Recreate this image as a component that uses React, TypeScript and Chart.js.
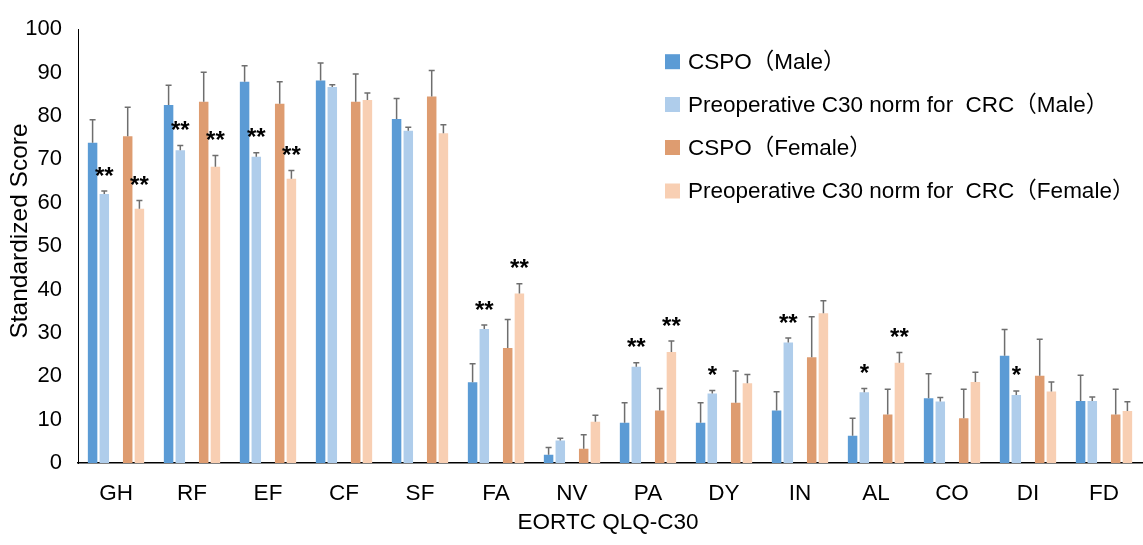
import React, { useEffect, useRef } from "react";
import { Chart, registerables } from "chart.js";

Chart.register(...registerables);

const categories = ["GH", "RF", "EF", "CF", "SF", "FA", "NV", "PA", "DY", "IN", "AL", "CO", "DI", "FD"];
const seriesLabels = [
  "CSPO（Male）",
  "Preoperative C30 norm for  CRC（Male）",
  "CSPO（Female）",
  "Preoperative C30 norm for  CRC（Female）",
];
const cspoMale = [73.8, 82.5, 87.9, 88.2, 79.3, 18.6, 1.9, 9.3, 9.3, 12.1, 6.3, 14.9, 24.7, 14.3];
const cspoMaleErr = [5.3, 4.6, 3.7, 4.0, 4.7, 4.3, 1.7, 4.6, 4.6, 4.3, 4.0, 5.7, 6.1, 5.9];
const normMale = [62.0, 72.1, 70.6, 86.7, 76.6, 30.9, 5.2, 22.2, 16.0, 27.8, 16.3, 14.2, 15.7, 14.3];
const normMaleErr = [0.7, 1.1, 0.9, 0.5, 0.8, 0.9, 0.5, 0.9, 0.7, 1.0, 0.9, 0.9, 0.9, 0.9];
const cspoFemale = [75.3, 83.3, 82.8, 83.3, 84.5, 26.5, 3.3, 12.1, 13.9, 24.4, 11.2, 10.3, 20.1, 11.2];
const cspoFemaleErr = [6.7, 6.8, 5.1, 6.4, 6.0, 6.6, 3.2, 5.1, 7.3, 9.3, 5.8, 6.7, 8.4, 5.8];
const normFemale = [58.6, 68.3, 65.5, 83.7, 76.0, 39.1, 9.5, 25.6, 18.4, 34.5, 23.1, 18.7, 16.5, 12.0];
const normFemaleErr = [1.9, 2.6, 1.9, 1.6, 2.0, 2.2, 1.5, 2.5, 2.0, 2.9, 2.4, 2.2, 2.2, 2.1];
const sigNormMale = ["**", "**", "**", "", "", "**", "", "**", "*", "**", "*", "", "*", ""];
const sigNormFemale = ["**", "**", "**", "", "", "**", "", "**", "", "", "**", "", "", ""];
const spacer = categories.map(() => null);

const colors = ["#5B9BD5", "#AFCDEB", "#DE9C70", "#F8CFB3"];
const FONT = "'Liberation Sans', Arial, 'Noto Sans CJK SC', sans-serif";

const errorsBySet: Record<number, number[]> = { 0: cspoMaleErr, 1: normMaleErr, 3: cspoFemaleErr, 4: normFemaleErr };
const sigBySet: Record<number, string[]> = { 1: sigNormMale, 4: sigNormFemale };

const overlayPlugin = {
  id: "overlay",
  afterDatasetsDraw(chart: any) {
    const ctx = chart.ctx;
    const y = chart.scales.y;
    ctx.save();
    Object.keys(errorsBySet).forEach((k) => {
      const di = Number(k);
      const meta = chart.getDatasetMeta(di);
      const vals = chart.data.datasets[di].data;
      const errs = errorsBySet[di];
      meta.data.forEach((el: any, i: number) => {
        const v = vals[i];
        if (v == null) return;
        const top = y.getPixelForValue(v + errs[i]);
        ctx.strokeStyle = "#6e6e6e";
        ctx.lineWidth = 1.5;
        ctx.beginPath();
        ctx.moveTo(el.x, el.y);
        ctx.lineTo(el.x, top);
        ctx.moveTo(el.x - 3, top);
        ctx.lineTo(el.x + 3, top);
        ctx.stroke();
        const sig = sigBySet[di] ? sigBySet[di][i] : "";
        if (sig) {
          ctx.fillStyle = "#000";
          ctx.font = `bold 24px ${FONT}`;
          ctx.textAlign = "center";
          ctx.textBaseline = "alphabetic";
          ctx.fillText(sig, el.x, top - 21 + 13.5);
        }
      });
    });
    ctx.restore();
  },
  afterDraw(chart: any) {
    const ctx = chart.ctx;
    ctx.save();
    // legend
    const rows = [61.7, 104.5, 147.5, 191];
    ctx.font = `22.5px ${FONT}`;
    ctx.textBaseline = "middle";
    ctx.textAlign = "left";
    seriesLabels.forEach((lab, i) => {
      ctx.fillStyle = colors[i];
      ctx.fillRect(665, rows[i] - 7.5, 15, 15);
      ctx.fillStyle = "#000";
      ctx.fillText(lab, 688, rows[i] + 1);
    });
    // axis titles
    ctx.font = `22.5px ${FONT}`;
    ctx.textAlign = "center";
    ctx.textBaseline = "middle";
    ctx.fillText("EORTC QLQ-C30", 608, 523);
    ctx.font = `24.5px ${FONT}`;
    ctx.translate(20, 231);
    ctx.rotate(-Math.PI / 2);
    ctx.fillText("Standardized Score", 0, 0);
    ctx.restore();
  },
};

export default function App() {
  const ref = useRef<HTMLCanvasElement>(null);
  useEffect(() => {
    document.body.style.margin = "0";
    const chart = new Chart(ref.current!, {
      type: "bar",
      data: {
        labels: categories,
        datasets: [
          { label: seriesLabels[0], data: cspoMale, backgroundColor: colors[0] },
          { label: seriesLabels[1], data: normMale, backgroundColor: colors[1] },
          { label: "spacer", data: spacer, backgroundColor: "rgba(0,0,0,0)" },
          { label: seriesLabels[2], data: cspoFemale, backgroundColor: colors[2] },
          { label: seriesLabels[3], data: normFemale, backgroundColor: colors[3] },
        ],
      },
      options: {
        animation: false,
        responsive: false,
        maintainAspectRatio: false,
        layout: { padding: { top: 21, right: 1, left: 0, bottom: 0 } },
        datasets: { bar: { categoryPercentage: 0.77, barPercentage: 0.81 } },
        plugins: { legend: { display: false }, tooltip: { enabled: false } },
        scales: {
          x: {
            grid: { display: false, drawTicks: false },
            border: { display: true, color: "#000", width: 1.5 },
            ticks: { color: "#000", font: { family: FONT, size: 22.5 }, padding: 17, maxRotation: 0 },
            afterFit(scale: any) {
              scale.height = 82;
            },
          },
          y: {
            min: 0,
            max: 100,
            grid: { display: false, drawTicks: false },
            border: { display: true, color: "#000", width: 1 },
            ticks: { stepSize: 10, color: "#000", font: { family: FONT, size: 22 }, padding: 16 },
            afterFit(scale: any) {
              scale.width = 78;
            },
          },
        },
      },
      plugins: [overlayPlugin],
    });
    return () => chart.destroy();
  }, []);
  return (
    <div style={{ position: "fixed", left: 0, top: 0, width: 1143, height: 545, background: "#fff" }}>
      <canvas ref={ref} width={1143} height={545} style={{ width: 1143, height: 545 }} />
    </div>
  );
}
